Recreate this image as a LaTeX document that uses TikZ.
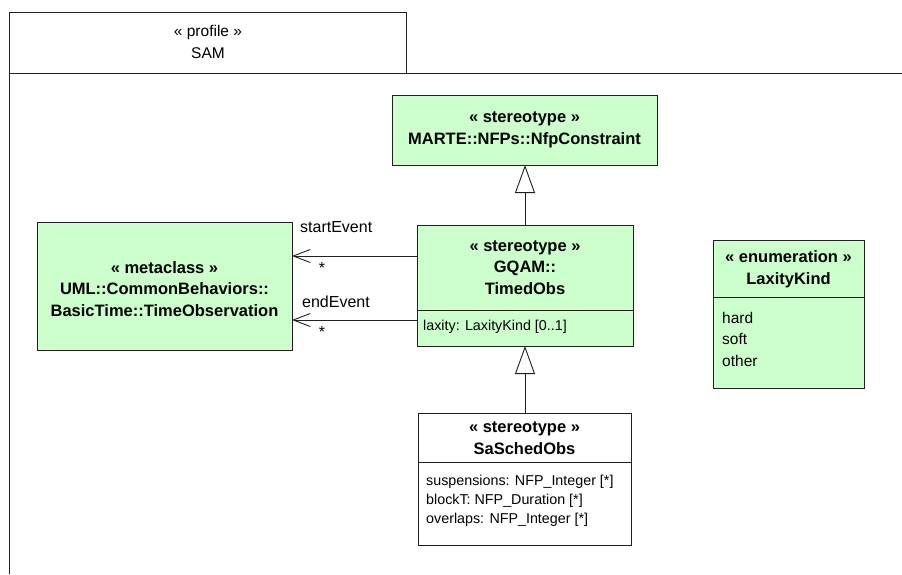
\documentclass[tikz,border=0pt]{standalone}
\usepackage{fontspec}
\setmainfont{Liberation Sans}
\usetikzlibrary{arrows.meta}
\definecolor{boxgreen}{HTML}{CCFFCC}
\definecolor{linecol}{HTML}{202020}
\tikzset{
  umlbox/.style={draw=linecol, line width=0.9pt, anchor=north west, inner sep=0pt, outer sep=0pt},
  greenbox/.style={umlbox, fill=boxgreen},
  whitebox/.style={umlbox, fill=white},
  head/.style={inner sep=0pt, align=center, font=\fontsize{16.5}{21.5}\selectfont\bfseries},
  attr/.style={inner sep=0pt, anchor=west, align=left, font=\fontsize{14.3}{19}\selectfont},
  enumitems/.style={inner sep=0pt, anchor=west, align=left, font=\fontsize{15.5}{21.5}\selectfont},
  lbl/.style={inner sep=0pt, font=\fontsize{16}{19}\selectfont},
  sep/.style={draw=linecol, line width=0.9pt},
  gen/.style={draw=linecol, line width=0.9pt, -{Triangle[open, length=28pt, width=20pt, fill=white]}},
  assoc/.style={draw=linecol, line width=0.9pt, -{Straight Barb[length=17pt, width=13pt, line width=0.9pt]}},
  framel/.style={draw=linecol, line width=0.9pt},
}
\begin{document}
\begin{tikzpicture}[x=1pt, y=-1pt]
\useasboundingbox (0,0) rectangle (902,574);
% profile frame
\draw[framel] (9,574) -- (9,12) -- (406,12) -- (406,73);
\draw[framel] (9,73) -- (902,73);
\node[inner sep=0pt, align=center, font=\fontsize{15.5}{22}\selectfont] (profile) at (208,42) {« profile »\\SAM};
% boxes
\node[greenbox, minimum width=265pt, minimum height=70pt] (nfp) at (392,95) {};
\node[head] (nfpt) at (nfp.center) {« stereotype »\\MARTE::NFPs::NfpConstraint};

\node[greenbox, minimum width=216pt, minimum height=121pt] (timed) at (417,225) {};
\node[head] (timedt) at (525,267.5) {« stereotype »\\GQAM::\\TimedObs};
\draw[sep] (timed.west |- 0,310) -- (timed.east |- 0,310);
\node[attr] (laxity) at (423,327) {laxity: LaxityKind [0..1]};

\node[greenbox, minimum width=255pt, minimum height=128pt] (meta) at (37,222) {};
\node[head] (metat) at (164.5,289) {« metaclass »\\UML::CommonBehaviors::\\BasicTime::TimeObservation};

\node[whitebox, minimum width=213pt, minimum height=132pt] (sched) at (418,413) {};
\node[head] (schedt) at (524.5,438) {« stereotype »\\SaSchedObs};
\draw[sep] (sched.west |- 0,462) -- (sched.east |- 0,462);
\node[attr, anchor=north west] (schedattr) at (426,475) {suspensions: NFP\_Integer [*]\\blockT: NFP\_Duration [*]\\overlaps: NFP\_Integer [*]};

\node[greenbox, minimum width=151pt, minimum height=148pt] (lax) at (713,240) {};
\node[head] (laxt) at (788.5,269) {« enumeration »\\LaxityKind};
\draw[sep] (lax.west |- 0,297) -- (lax.east |- 0,297);
\node[enumitems, anchor=north west] (laxitems) at (722,312) {hard\\soft\\other};

% generalizations
\draw[gen] (timed.north -| 525,0) -- (nfp.south -| 525,0);
\draw[gen] (sched.north -| 525,0) -- (timed.south -| 525,0);
% associations
\draw[assoc] (timed.west |- 0,256) -- (meta.east |- 0,256);
\draw[assoc] (timed.west |- 0,320) -- (meta.east |- 0,320);
\node[lbl, anchor=west] (se) at (300,227) {startEvent};
\node[lbl] (sm) at (322,268) {*};
\node[lbl, anchor=west] (ee) at (302,302) {endEvent};
\node[lbl] (em) at (322,332) {*};
\end{tikzpicture}
\end{document}
